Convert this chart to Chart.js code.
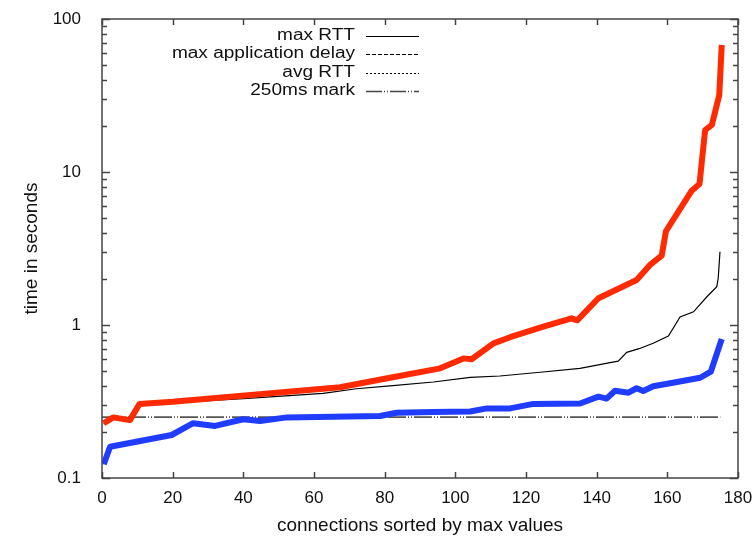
<!DOCTYPE html>
<html><head><meta charset="utf-8">
<script src="https://cdn.jsdelivr.net/npm/chart.js@4/dist/chart.umd.min.js"></script>
<style>html,body{margin:0;padding:0;background:#fff}#wrap{width:756px;height:536px;position:relative}</style>
</head><body><div id="wrap"><canvas id="c"></canvas></div>
<script>
// ---- data ----
const seriesNames = ['max RTT', 'max application delay', 'avg RTT', '250ms mark'];
const xTickValues = [0, 20, 40, 60, 80, 100, 120, 140, 160, 180];
const yTickValues = [0.1, 1, 10, 100];

// max application delay (thick red overlay + thin dashed black)
const appDelayX = [0.5, 3.2, 7.9, 10.6, 20, 56, 67.4, 81.5, 95.7, 102.3, 104.6, 110.8, 115.5, 124.9, 132.9, 134.5, 140.5, 151.3, 155.1, 158.4, 159.6, 166.9, 169.1, 170.7, 172.6, 174.7, 175.4];
const appDelayY = [0.228, 0.249, 0.239, 0.305, 0.315, 0.372, 0.392, 0.452, 0.521, 0.605, 0.597, 0.759, 0.832, 0.975, 1.106, 1.073, 1.495, 1.97, 2.47, 2.84, 4.1, 7.55, 8.35, 18.8, 20.3, 31.9, 67.6];

// max RTT (thin solid black)
const maxRttX = [0.5, 3, 7.5, 9.5, 11, 20, 30, 40, 53, 62.6, 72, 81.5, 93.8, 104.2, 112.6, 124, 135.3, 143.8, 146.1, 148.5, 152, 156, 160.3, 163.6, 167.4, 171.2, 174, 174.4, 174.9];
const maxRttY = [0.225, 0.245, 0.245, 0.29, 0.30, 0.31, 0.32, 0.33, 0.345, 0.357, 0.383, 0.40, 0.424, 0.455, 0.464, 0.491, 0.521, 0.567, 0.58, 0.663, 0.70, 0.759, 0.847, 1.13, 1.22, 1.53, 1.78, 2.02, 3.01];

// avg RTT (thick blue overlay + thin dotted black)
const avgRttX = [0.5, 2.3, 19.7, 25.8, 32, 40, 44.7, 52.3, 78.7, 83.4, 93.8, 104.2, 108.9, 115.5, 122.1, 135.3, 140.5, 142.8, 145.2, 149, 151.3, 153.2, 156, 160.8, 169.3, 172.3, 175.4];
const avgRttY = [0.123, 0.160, 0.191, 0.228, 0.219, 0.242, 0.236, 0.249, 0.254, 0.267, 0.27, 0.272, 0.285, 0.285, 0.305, 0.307, 0.340, 0.33, 0.372, 0.361, 0.386, 0.37, 0.398, 0.416, 0.452, 0.495, 0.81];

// 250ms mark
const markX = [0, 175];
const markY = [0.25, 0.25];

const toPts = (xs, ys) => xs.map((x, i) => ({x: x, y: ys[i]}));

const RED = '#ff2a00';
const BLUE = '#1f3cff';
const FONT = "'Liberation Sans', Arial, Helvetica, sans-serif";

Chart.defaults.font.family = FONT;
Chart.defaults.font.size = 16;
Chart.defaults.color = '#111';

const legendStyles = [
  {dash: [], width: 1.2, color: '#000'},
  {dash: [4, 2], width: 1.2, color: '#000'},
  {dash: [2, 2], width: 1.2, color: '#000'},
  {dash: [16, 2, 1, 2, 1, 2], width: 1.5, color: '#444'}
];

const framePlugin = {
  id: 'frame',
  afterDraw(chart) {
    const ctx = chart.ctx;
    const a = chart.chartArea;
    const xs = chart.scales.x, ys = chart.scales.y;
    ctx.save();
    ctx.strokeStyle = '#444';
    ctx.lineWidth = 1.5;
    ctx.setLineDash([]);
    ctx.strokeRect(a.left, a.top, a.right - a.left, a.bottom - a.top);
    ctx.beginPath();
    xTickValues.forEach(v => {
      const px = Math.round(xs.getPixelForValue(v)) + 0.5;
      ctx.moveTo(px, a.bottom); ctx.lineTo(px, a.bottom - 6);
      ctx.moveTo(px, a.top); ctx.lineTo(px, a.top + 6);
    });
    for (let d = 0; d < yTickValues.length; d++) {
      const base = yTickValues[d];
      for (let m = 1; m <= 9; m++) {
        const v = base * m;
        if (v > 100 + 1e-9) break;
        const py = Math.round(ys.getPixelForValue(v)) + 0.5;
        const len = m === 1 ? 8 : 5;
        ctx.moveTo(a.left, py); ctx.lineTo(a.left + len, py);
        ctx.moveTo(a.right, py); ctx.lineTo(a.right - len, py);
      }
    }
    ctx.stroke();

    // legend (text is horizontally widened like the reference)
    const rows = [35.5, 54, 72.5, 91];
    seriesNames.forEach((name, i) => {
      ctx.save();
      ctx.translate(355, rows[i]);
      ctx.scale(1.19, 1);
      ctx.font = '16px ' + FONT;
      ctx.fillStyle = '#111';
      ctx.textAlign = 'right';
      ctx.textBaseline = 'middle';
      ctx.fillText(name, 0, 0);
      ctx.restore();
      const s = legendStyles[i];
      ctx.beginPath();
      ctx.setLineDash(s.dash);
      ctx.lineWidth = s.width;
      ctx.strokeStyle = s.color;
      ctx.moveTo(366, Math.round(rows[i]) + 0.5);
      ctx.lineTo(419, Math.round(rows[i]) + 0.5);
      ctx.stroke();
    });
    ctx.restore();
  }
};

new Chart(document.getElementById('c'), {
  type: 'scatter',
  data: {
    datasets: [
      {label: seriesNames[1] + ' (overlay)', data: toPts(appDelayX, appDelayY), showLine: true, borderColor: RED, borderWidth: 6, pointRadius: 0, borderJoinStyle: 'round', borderCapStyle: 'butt', order: 0},
      {label: seriesNames[2] + ' (overlay)', data: toPts(avgRttX, avgRttY), showLine: true, borderColor: BLUE, borderWidth: 6, pointRadius: 0, borderJoinStyle: 'round', borderCapStyle: 'butt', order: 0},
      {label: seriesNames[1], data: toPts(appDelayX, appDelayY), showLine: true, borderColor: '#000', borderWidth: 1, borderDash: [4, 2], pointRadius: 0, order: 2},
      {label: seriesNames[0], data: toPts(maxRttX, maxRttY), showLine: true, borderColor: '#000', borderWidth: 1.2, pointRadius: 0, order: 2},
      {label: seriesNames[2], data: toPts(avgRttX, avgRttY), showLine: true, borderColor: '#000', borderWidth: 1, borderDash: [2, 2], pointRadius: 0, order: 2},
      {label: seriesNames[3], data: toPts(markX, markY), showLine: true, borderColor: '#555', borderWidth: 1.8, borderDash: [18, 2, 1, 2, 1, 2], pointRadius: 0, order: 3}
    ]
  },
  options: {
    responsive: true,
    maintainAspectRatio: false,
    animation: false,
    events: [],
    layout: {padding: {left: 0, right: 18, top: 19, bottom: 0}},
    plugins: {legend: {display: false}, tooltip: {enabled: false}},
    scales: {
      x: {
        type: 'linear', min: 0, max: 180,
        afterBuildTicks: s => { s.ticks = xTickValues.map(v => ({value: v})); },
        afterFit: s => { s.height = 58; s.paddingLeft = 0; s.paddingRight = 0; },
        grid: {display: false, drawTicks: false},
        border: {display: false},
        ticks: {padding: 10, maxRotation: 0, autoSkip: false, color: '#111', font: {size: 17}},
        title: {display: true, text: 'connections sorted by max values', color: '#111', font: {size: 19}, padding: {top: 0, bottom: -1}}
      },
      y: {
        type: 'logarithmic', min: 0.1, max: 100,
        afterBuildTicks: s => { s.ticks = yTickValues.map(v => ({value: v})); },
        afterFit: s => { s.width = 102; s.paddingTop = 0; s.paddingBottom = 0; },
        grid: {display: false, drawTicks: false},
        border: {display: false},
        ticks: {padding: 21, autoSkip: false, color: '#111', font: {size: 17}, callback: v => String(v)},
        title: {display: true, text: 'time in seconds', color: '#111', font: {size: 19}, padding: {top: 20, bottom: 0}}
      }
    }
  },
  plugins: [framePlugin]
});
</script>
</body></html>
